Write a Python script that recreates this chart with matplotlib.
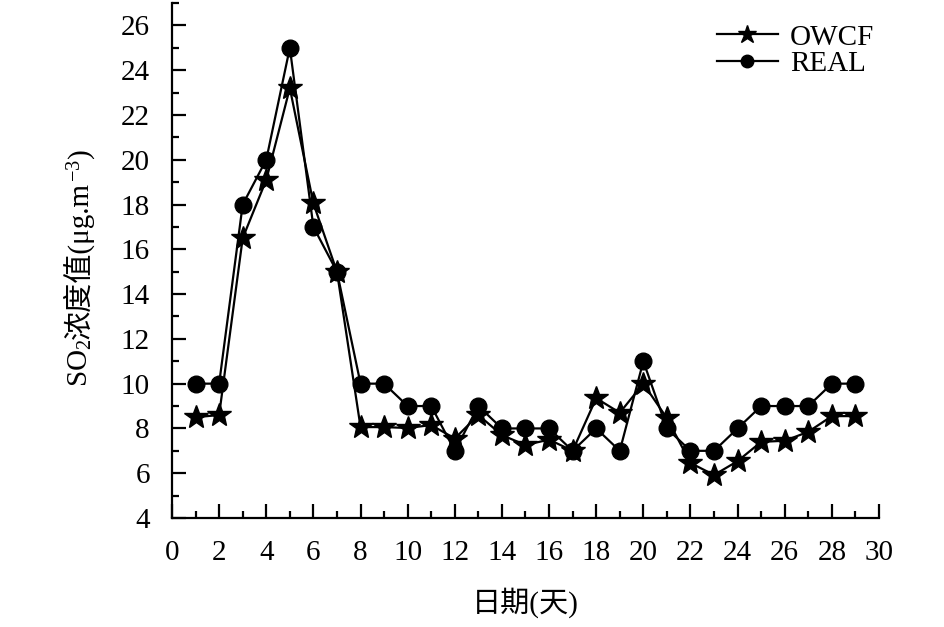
import numpy as np
import matplotlib
matplotlib.use("Agg")
import matplotlib.pyplot as plt
from matplotlib.ticker import MultipleLocator

plt.rcParams['font.family'] = ['Liberation Serif', 'Noto Sans CJK SC']
plt.rcParams['mathtext.fontset'] = 'custom'
plt.rcParams['mathtext.rm'] = 'Liberation Serif'
plt.rcParams['mathtext.it'] = 'Liberation Serif:italic'

# data
days = list(range(1, 30))
owcf = [8.5, 8.6, 16.5, 19.1, 23.2, 18.05, 15.0, 8.06, 8.06, 8.02, 8.15, 7.55,
        8.6, 7.7, 7.26, 7.5, 7.0, 9.35, 8.7, 10.0, 8.46, 6.46, 5.92, 6.54,
        7.4, 7.45, 7.85, 8.55, 8.55]
real = [10, 10, 18, 20, 25, 17, 15, 10, 10, 9, 9, 7, 9, 8, 8, 8, 7, 8, 7, 11,
        8, 7, 7, 8, 9, 9, 9, 10, 10]

fs = 21
W, H = 945, 627
fig = plt.figure(figsize=(W / 100, H / 100), dpi=100)
ax = fig.add_axes([172 / W, 1 - 518 / H, (879 - 172) / W, (518 - 3) / H])

ax.plot(days, owcf, color='black', lw=1.6, marker='*', ms=18, label='OWCF')
ax.plot(days, real, color='black', lw=1.6, marker='o', ms=12, label='REAL')

ax.set_xlim(0, 30)
ax.set_ylim(4, 27)
ax.xaxis.set_major_locator(MultipleLocator(2))
ax.xaxis.set_minor_locator(MultipleLocator(1))
ax.yaxis.set_major_locator(MultipleLocator(2))
ax.yaxis.set_minor_locator(MultipleLocator(1))
ax.set_yticks(np.arange(4, 27, 2))
for s in ['top', 'right']:
    ax.spines[s].set_visible(False)
for s in ['left', 'bottom']:
    ax.spines[s].set_linewidth(1.6)
ax.tick_params(which='major', direction='in', length=10, width=1.6,
               labelsize=fs, pad=16)
ax.tick_params(which='minor', direction='in', length=5, width=1.6)

leg = ax.legend(loc='upper right', frameon=False, fontsize=fs,
                handlelength=2.1, handletextpad=0.4, labelspacing=0.0,
                markerscale=0.75, bbox_to_anchor=(1.03, 1.01))

fig.text(525 / W, 1 - 603 / H, '日期(天)', fontsize=fs, ha='center', va='center')

# y label pieces: rotated, chained bottom -> top along a shared baseline
parts = ['SO$_2$', '浓度值(μg.m', '$^{-3}$', ')']
fig.canvas.draw()
renderer = fig.canvas.get_renderer()
x0 = 88
y = 387
for p in parts:
    t = fig.text(x0 / W, 1 - y / H, p, fontsize=fs, rotation=90,
                 rotation_mode='anchor', ha='left', va='baseline')
    ext = t.get_window_extent(renderer)
    y -= ext.height

fig.savefig('out.png', dpi=100)
